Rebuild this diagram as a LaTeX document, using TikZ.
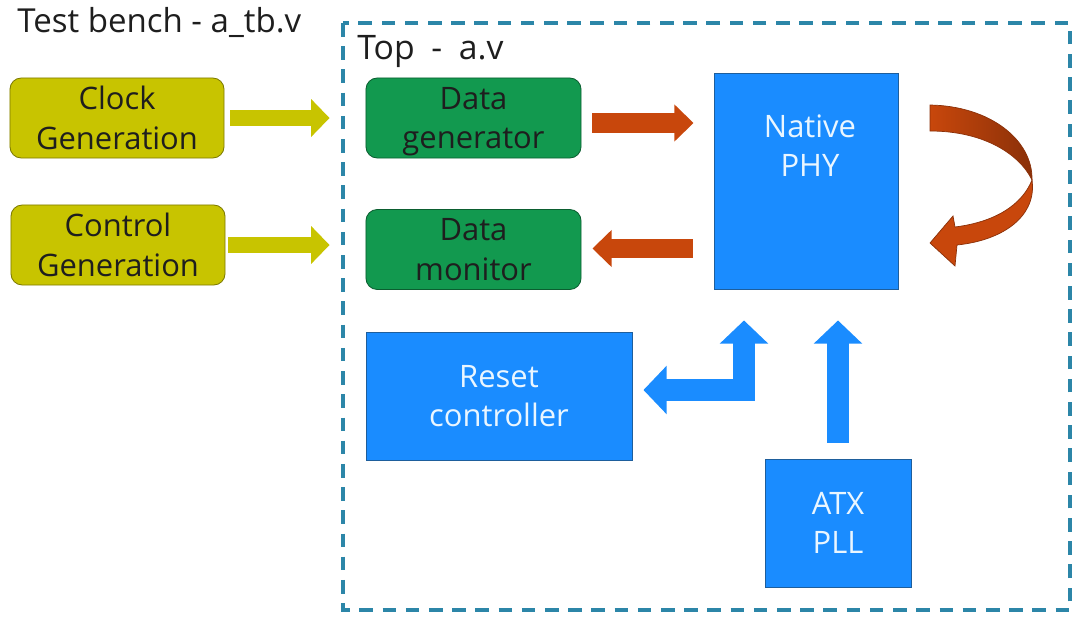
\documentclass[tikz,border=0pt]{standalone}
\usepackage{fontspec}
\setmainfont{Open Sans}
\newfontfamily\widefont[WordSpace=1.9]{Open Sans}
\usetikzlibrary{arrows.meta,calc}
\definecolor{olivebox}{HTML}{C8C400}
\definecolor{oliveline}{HTML}{7D7A00}
\definecolor{greenbox}{HTML}{12994F}
\definecolor{greenline}{HTML}{0B5E30}
\definecolor{bluebox}{HTML}{1A8CFF}
\definecolor{blueline}{HTML}{1E5E9C}
\definecolor{rust}{HTML}{C8470C}
\definecolor{rustdark}{HTML}{8A3008}
\definecolor{framecol}{HTML}{2C86A8}
\definecolor{inkcol}{HTML}{1E1E1E}
\definecolor{paletext}{HTML}{EAF6FF}
\tikzset{
  every node/.style={font=\fontsize{22}{28}\selectfont, text=inkcol},
  genbox/.style={draw=oliveline, fill=olivebox, rounded corners=8pt, minimum width=5.35cm, minimum height=2cm, align=center, line width=0.6pt},
  databox/.style={draw=greenline, fill=greenbox, rounded corners=8pt, minimum width=5.375cm, minimum height=2cm, align=center, line width=0.6pt},
  hwbox/.style={draw=blueline, fill=bluebox, align=center, text=paletext, line width=0.6pt},
  yarrow/.style={olivebox, line width=0.4cm, -{Triangle[width=0.92cm,length=0.46cm]}},
  oarrow/.style={rust, line width=0.48cm, -{Triangle[width=0.9cm,length=0.48cm]}},
  barrow/.style={bluebox, line width=0.54cm, line join=miter, -{Triangle[width=1.18cm,length=0.58cm]}},
  frame/.style={framecol, line width=2.2pt, dash pattern=on 0.34cm off 0.24cm}
}
\begin{document}
\begin{tikzpicture}[x=0.025cm, y=-0.025cm]
  \useasboundingbox (0,0) rectangle (1080,619);
  \draw[frame] (343,23) rectangle (1070,610);
  \node[anchor=west, inner sep=0, font=\fontsize{23.5}{28}\selectfont] (tb) at (17,22) {Test bench - a\_tb.v};
  \node[anchor=west, inner sep=0, font=\fontsize{24}{28}\selectfont\widefont] (top) at (357,52) {Top - a.v};
  % test bench blocks
  \node[genbox] (clk) at (117,118) {Clock\\Generation};
  \node[genbox] (ctl) at (118,245) {Control\\Generation};
  % top blocks
  \node[databox, text depth=0pt] (dgen) at (473.5,118) {Data\\generator};
  \node[databox] (dmon) at (473.5,249.5) {Data\\monitor};
  \node[hwbox, minimum width=4.6cm, minimum height=5.4cm] (phy) at (806,181) {};
  \node[text=paletext, align=center] (phytxt) at ($(phy.north)+(4,73)$) {Native\\PHY};
  \node[hwbox, minimum width=6.65cm, minimum height=3.2cm] (rst) at (499,396) {Reset\\controller};
  \node[hwbox, minimum width=3.65cm, minimum height=3.2cm] (atx) at (838,523) {ATX\\PLL};
  % arrows
  \draw[yarrow] ($(clk.east)+(6,0)$) -- ($(dgen.west|-clk.east)+(-36,0)$);
  \draw[yarrow] ($(ctl.east)+(3,0)$) -- ($(dmon.west|-ctl.east)+(-36,0)$);
  \draw[oarrow] ($(dgen.east)+(11,5)$) -- ($(phy.west|-dgen.east)+(-20,5)$);
  \draw[oarrow] ($(phy.west|-dmon.east)+(-21,-1)$) -- ($(dmon.east)+(11,-1)$);
  \draw[barrow, {Triangle[width=1.18cm,length=0.58cm]}-{Triangle[width=1.18cm,length=0.58cm]}]
    ($(rst.east)+(11,-6)$) -| ($(phy.south)+(-62,31)$);
  \draw[barrow] ($(atx.north)+(0,-16)$) -- ($(atx.north|-phy.south)+(0,31)$);
  % loop back arrow
  \fill[rust, draw=rustdark, line width=0.5pt] (1032,180) .. controls (1022,205) and (995,222) .. (955,227)
    -- (953,216) -- (930,243) -- (955,266) -- (957,245)
    .. controls (1005,240) and (1037,215) .. (1032,180) -- cycle;
  \shade[left color=rust, right color=rustdark, draw=rustdark, line width=0.5pt] (930,105)
    .. controls (990,106) and (1033,140) .. (1032,180)
    .. controls (1020,155) and (985,131) .. (930,131) -- cycle;
\end{tikzpicture}
\end{document}
